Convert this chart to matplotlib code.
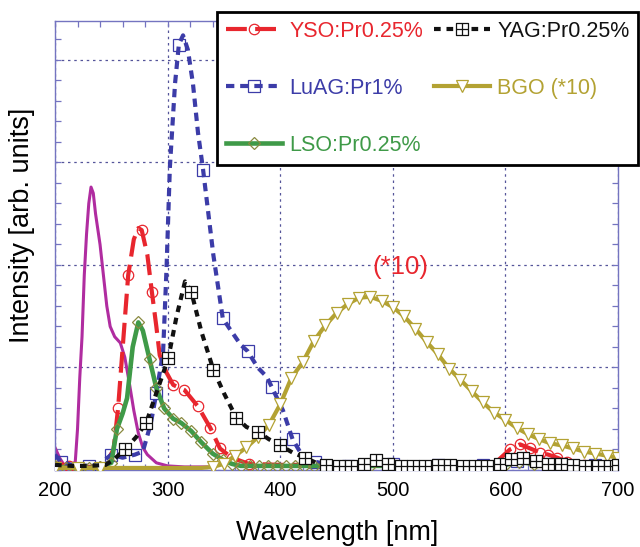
import matplotlib
matplotlib.use('Agg')
import matplotlib.pyplot as plt
from matplotlib.path import Path
from matplotlib.ticker import MultipleLocator

plt.rcParams['font.family'] = ['Liberation Sans', 'DejaVu Sans']

# ---------------- data ----------------
mag_x = [200, 204, 208, 213, 218, 220, 222, 224, 226, 228, 230, 232, 234, 236, 238, 240,
         243, 246, 249, 253, 258, 262, 266, 270, 274, 278, 282, 290, 300, 315, 335]
mag_y = [0.22, 0.12, 0.05, 0.03, 0.08, 0.4, 0.9, 1.3, 1.9, 2.3, 2.6, 2.76, 2.7, 2.5, 2.35, 2.2,
         1.9, 1.6, 1.4, 1.3, 1.24, 1.1, 0.85, 0.58, 0.36, 0.22, 0.15, 0.07, 0.04, 0.03, 0.03]

yso_x = [200, 212, 228, 244, 252, 256, 265, 270, 274, 277, 282, 286, 290, 293, 299, 305, 315,
         327, 338, 346.5, 357, 372, 400, 450, 500, 550, 590, 604, 613, 622, 631, 638, 646, 655,
         670, 700]
yso_y = [0.07, 0.04, 0.03, 0.04, 0.2, 0.6, 1.9, 2.25, 2.36, 2.34, 2.1, 1.74, 1.4, 1.12, 0.95,
         0.83, 0.78, 0.62, 0.41, 0.21, 0.12, 0.06, 0.05, 0.05, 0.05, 0.05, 0.06, 0.2, 0.25, 0.21,
         0.17, 0.15, 0.12, 0.08, 0.05, 0.04]
yso_marks = [0, 1, 5, 6, 9, 11, 15, 16, 17, 18, 19, 20, 21, 27, 28, 29, 30, 31, 32, 33, 34]

yag_x = [200, 215, 230, 245, 252, 262, 272, 281, 290, 300.6, 308, 315.5, 321, 330, 340.6, 350,
         361, 370, 380.5, 390, 400, 411, 422, 432, 441, 452, 463, 474, 485, 496, 507, 518, 529,
         540, 551, 562, 573, 584, 595, 605, 616, 627, 638, 649, 660, 671, 682, 693, 700]
yag_y = [0.05, 0.04, 0.04, 0.05, 0.1, 0.2, 0.32, 0.46, 0.75, 1.09, 1.5, 1.84, 1.74, 1.35, 0.98,
         0.75, 0.51, 0.42, 0.37, 0.3, 0.24, 0.17, 0.12, 0.07, 0.05, 0.04, 0.04, 0.06, 0.1, 0.06,
         0.04, 0.04, 0.04, 0.05, 0.05, 0.04, 0.04, 0.04, 0.06, 0.11, 0.12, 0.09, 0.06, 0.06, 0.05,
         0.04, 0.04, 0.04, 0.05]
yag_marks = [5, 7, 9, 12, 14, 16, 18, 20, 22, 24] + list(range(25, 49))

luag_x = [200, 205, 215, 230, 240, 250, 260, 271, 278, 285, 290, 296, 299, 302, 306.6, 310,
          313.7, 318, 322.5, 327, 331.5, 340.6, 349, 355, 365, 371, 380, 388, 392.5, 402.5, 411,
          418, 431, 445, 460, 480, 500, 520, 540, 560, 580, 600, 610, 620, 640, 660, 680, 700]
luag_y = [0.15, 0.08, 0.05, 0.04, 0.06, 0.15, 0.12, 0.15, 0.18, 0.45, 0.75, 1.15, 1.95, 2.95,
          3.77, 4.15, 4.24, 4.1, 3.77, 3.29, 2.93, 2.1, 1.48, 1.38, 1.22, 1.16, 1.0, 0.91, 0.81,
          0.58, 0.3, 0.17, 0.08, 0.05, 0.04, 0.05, 0.06, 0.05, 0.05, 0.05, 0.05, 0.06, 0.09, 0.07,
          0.06, 0.05, 0.05, 0.05]
luag_marks = [1, 3, 5, 7, 10, 15, 20, 22, 25, 28, 30, 32, 34, 36, 38, 40, 42, 44, 46]

bgo_x = [200, 210, 220, 230, 240, 250, 260, 270, 280, 290, 300, 310, 320, 330, 340, 350, 360,
         370, 380, 390, 400, 410, 420, 430, 440, 450, 460, 470, 480, 490, 500, 510, 520, 530,
         540, 550, 560, 570, 580, 590, 600, 610, 620, 630, 640, 650, 660, 670, 680, 690, 700]
bgo_y = [0.02, 0.02, 0.02, 0.02, 0.02, 0.02, 0.02, 0.02, 0.02, 0.02, 0.02, 0.02, 0.02, 0.02,
         0.03, 0.06, 0.14, 0.22, 0.32, 0.44, 0.64, 0.9, 1.05, 1.26, 1.41, 1.53, 1.62, 1.68, 1.69,
         1.65, 1.59, 1.5, 1.38, 1.25, 1.13, 0.99, 0.88, 0.77, 0.66, 0.56, 0.49, 0.41, 0.35, 0.3,
         0.26, 0.24, 0.21, 0.18, 0.16, 0.14, 0.12]
bgo_marks = [0, 2, 4, 14] + list(range(15, 51))

lso_x = [200, 210, 220, 230, 240, 250, 255, 260, 264, 269, 274, 278, 284, 290, 297, 305, 312,
         321, 330, 340, 349, 357, 365, 373, 381, 389, 397, 405, 413, 421, 430, 450, 480, 510,
         540, 570, 600, 612, 625, 650, 680, 700]
lso_y = [0.04, 0.02, 0.02, 0.02, 0.03, 0.07, 0.4, 0.55, 0.7, 1.2, 1.44, 1.36, 1.08, 0.8, 0.6,
         0.5, 0.46, 0.38, 0.27, 0.16, 0.1, 0.06, 0.04, 0.04, 0.04, 0.04, 0.04, 0.04, 0.04, 0.04,
         0.04, 0.04, 0.04, 0.04, 0.04, 0.04, 0.05, 0.08, 0.06, 0.04, 0.04, 0.04]
lso_marks = [i for i in range(len(lso_x)) if i not in (7, 8, 9, 11)]

labels = ['YSO:Pr0.25%', 'YAG:Pr0.25%', 'LuAG:Pr1%', 'BGO (*10)', 'LSO:Pr0.25%']
x_ticks = [200, 300, 400, 500, 600, 700]
annotation = '(*10)'

# ---------------- style ----------------
c_mag = '#b02ca0'
c_red = '#e8262e'
c_blk = '#111111'
c_blu = '#3c3ca8'
c_olv = '#b3a233'
c_grn = '#3f9a48'
c_spine = '#7474c0'

# square-with-cross marker
box_plus = Path([(-1, -1), (1, -1), (1, 1), (-1, 1), (-1, -1),
                 (0, -1), (0, 1), (-1, 0), (1, 0)],
                [Path.MOVETO, Path.LINETO, Path.LINETO, Path.LINETO, Path.CLOSEPOLY,
                 Path.MOVETO, Path.LINETO, Path.MOVETO, Path.LINETO])

fig = plt.figure(figsize=(6.4, 5.47), dpi=100)
ax = fig.add_axes([55 / 640, 77 / 547, 563 / 640, 449 / 547])

ax.plot(mag_x, mag_y, color=c_mag, lw=2.2, zorder=2)
l_yso, = ax.plot(yso_x, yso_y, color=c_red, lw=3, dashes=(5, 2), marker='o', ms=7.5,
                 mfc='none', mec=c_red, mew=0.9, markevery=yso_marks, zorder=3, label=labels[0])
l_luag, = ax.plot(luag_x, luag_y, color=c_blu, lw=3, dashes=(2, 1.4), marker='s', ms=8,
                  mfc='none', mec=c_blu, mew=0.9, markevery=luag_marks, zorder=4, label=labels[2])
l_lso, = ax.plot(lso_x, lso_y, color=c_grn, lw=3.3, marker='D', ms=6.5, mfc='none',
                 mec='#8a8a40', mew=0.9, markevery=lso_marks, zorder=5, label=labels[4])
l_bgo, = ax.plot(bgo_x, bgo_y, color=c_olv, lw=3, marker='v', ms=8.5, mfc='white',
                 mec=c_olv, mew=0.9, markevery=bgo_marks, zorder=6, label=labels[3])
l_yag, = ax.plot(yag_x, yag_y, color=c_blk, lw=3, dashes=(1.6, 1.4), marker=box_plus, ms=9,
                 mfc='white', mec=c_blk, mew=0.9, markevery=yag_marks, zorder=7, label=labels[1])

ax.text(507, 1.98, annotation, color=c_red, fontsize=18.5, ha='center', va='center', zorder=8)

ax.set_xlim(200, 700)
ax.set_ylim(0, 4.38)
ax.set_xticks(x_ticks)
ax.xaxis.set_minor_locator(MultipleLocator(20))
ax.yaxis.set_major_locator(MultipleLocator(1))
ax.yaxis.set_minor_locator(MultipleLocator(0.2))
ax.tick_params(which='both', direction='in', top=True, right=True, length=4,
               width=0.9, color=c_spine, labelleft=False)
ax.tick_params(axis='x', labelsize=14.5, pad=8)
for s in ax.spines.values():
    s.set_color(c_spine)
    s.set_linewidth(1)
ax.set_axisbelow(True)
ax.grid(True, which='major', linestyle=(0, (2, 3)), color='#55559a', lw=0.9)

fig.text(337 / 640, 1 - 533 / 547, 'Wavelength [nm]', fontsize=19.5, ha='center', va='center')
fig.text(22 / 640, 1 - 225 / 547, 'Intensity [arb. units]', fontsize=19.5, ha='center',
         va='center', rotation=90)

leg = ax.legend([l_yso, l_luag, l_lso, l_yag, l_bgo],
                [labels[0], labels[2], labels[4], labels[1], labels[3]],
                ncol=2, loc='upper left', bbox_to_anchor=(217 / 640, 1 - 12 / 547),
                bbox_transform=fig.transFigure, fontsize=15.5, labelcolor='linecolor',
                handlelength=2.6, handletextpad=0.35, columnspacing=0.5,
                labelspacing=1.68, borderpad=0.4, borderaxespad=0, fancybox=False,
                framealpha=1, edgecolor='black')
leg.get_frame().set_linewidth(2)
leg.set_zorder(20)

fig.savefig('out.png', dpi=100)
